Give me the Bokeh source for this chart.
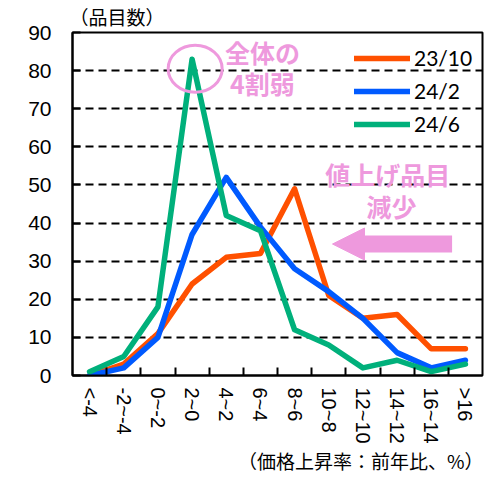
from bokeh.plotting import figure
from bokeh.models import FixedTicker, Range1d, Label, Arrow, NormalHead, Legend, LegendItem, Title
from bokeh.embed import file_html
from bokeh.resources import INLINE

# ---- data ----
categories = ["<-4", "-2~-4", "0~-2", "2~0", "4~2", "6~4", "8~6", "10~8", "12~10", "14~12", "16~14", ">16"]
series_names = ["23/10", "24/2", "24/6"]
s_2310 = [0, 3, 11, 24, 31, 32, 49, 21, 15, 16, 7, 7]
s_2402 = [0, 2, 10, 37, 52, 39, 28, 22, 15, 6, 2, 4]
s_2406 = [1, 5, 18, 83, 42, 38, 12, 8, 2, 4, 1, 3]
y_ticks = [0, 10, 20, 30, 40, 50, 60, 70, 80, 90]
y_title = "（品目数）"
x_title = "（価格上昇率：前年比、%）"
note1 = ["全体の", "4割弱"]
note2 = ["値上げ品目", "減少"]

colors = ["#FF5000", "#005AFF", "#00B07B"]
pink = "#EE99DD"
jp_font = "Noto Sans CJK JP"

x_centers = [i + 0.5 for i in range(len(categories))]
x_bounds = list(range(1, len(categories)))

p = figure(width=484, height=475, x_range=Range1d(0, len(categories)), y_range=Range1d(0, 90),
           output_backend="svg", toolbar_location=None, title=None,
           min_border_left=72, min_border_right=2, min_border_top=32, min_border_bottom=99)
p.background_fill_color = "white"
p.border_fill_color = "white"
p.outline_line_color = "black"
p.outline_line_width = 2
p.outline_line_alpha = 1

# x axis
xa = p.xaxis[0]
xa.ticker = FixedTicker(ticks=x_centers, minor_ticks=x_bounds)
xa.major_label_overrides = {x: c for x, c in zip(x_centers, categories)}
xa.major_label_orientation = "vertical"
xa.major_tick_line_color = None
xa.major_tick_in = 0
xa.major_tick_out = 0
xa.minor_tick_in = 8
xa.minor_tick_out = 0
xa.minor_tick_line_width = 2
xa.minor_tick_line_color = "black"
xa.axis_line_width = 2
xa.axis_line_color = "black"
xa.major_label_standoff = 12
xa.major_label_text_font = "Liberation Sans"
xa.major_label_text_font_size = "20px"
xa.major_label_text_color = "black"

# y axis
ya = p.yaxis[0]
ya.ticker = FixedTicker(ticks=y_ticks)
ya.major_tick_in = 8
ya.major_tick_out = 0
ya.major_tick_line_width = 2
ya.major_tick_line_color = "black"
ya.minor_tick_line_color = None
ya.axis_line_width = 2
ya.axis_line_color = "black"
ya.major_label_standoff = 21
ya.major_label_text_font = "Liberation Sans"
ya.major_label_text_font_size = "21px"
ya.major_label_text_color = "black"

p.xgrid.visible = False
p.ygrid.ticker = FixedTicker(ticks=y_ticks)
p.ygrid.grid_line_color = "black"
p.ygrid.grid_line_width = 2
p.ygrid.grid_line_dash = "8 5"

renderers = []
for vals, col in zip([s_2310, s_2402, s_2406], colors):
    r = p.line(x_centers, vals, line_color=col, line_width=5.5, line_cap="round", line_join="round")
    renderers.append(r)

legend = Legend(items=[LegendItem(label=n, renderers=[r]) for n, r in zip(series_names, renderers)],
                location=(282, 239), orientation="vertical")
legend.label_text_font = "Lato"
legend.label_text_font_size = "21px"
legend.label_text_color = "black"
legend.glyph_width = 56
legend.glyph_height = 24
legend.label_height = 24
legend.label_standoff = 4
legend.spacing = 8
legend.padding = 0
legend.margin = 0
legend.border_line_color = None
legend.background_fill_alpha = 0
p.add_layout(legend)

# circle around the 24/6 peak
peak_i = s_2406.index(max(s_2406))
p.ellipse(x=[x_centers[peak_i] + 0.09], y=[max(s_2406) - 2.5], width=54, height=47,
          width_units="screen", height_units="screen",
          fill_color=None, line_color=pink, line_width=3)

def note(x, y, text):
    p.add_layout(Label(x=x, y=y, text=text, text_font=jp_font, text_font_style="bold",
                       text_font_size="25px", text_color=pink, text_align="center",
                       text_baseline="middle"))

note(5.56, 85.0, note1[0])
note(5.56, 76.7, note1[1])
note(9.23, 52.9, note2[0])
note(9.34, 44.5, note2[1])

p.add_layout(Arrow(x_start=11.11, y_start=34.5, x_end=7.61, y_end=34.5,
                   line_color=pink, line_width=17,
                   end=NormalHead(size=32, fill_color=pink, line_color=pink, line_width=1)))

# axis titles
t_top = Title(text=y_title, align="left", offset=-3, standoff=2, vertical_align="top",
              text_font=jp_font, text_font_size="19px", text_font_style="normal",
              text_color="black")
p.add_layout(t_top, "above")
t_bot = Title(text=x_title, align="right", offset=-1, standoff=0, vertical_align="top",
              text_font=jp_font, text_font_size="19px", text_font_style="normal",
              text_color="black")
p.add_layout(t_bot, "below")

open("out.html", "w").write(file_html(p, INLINE))
